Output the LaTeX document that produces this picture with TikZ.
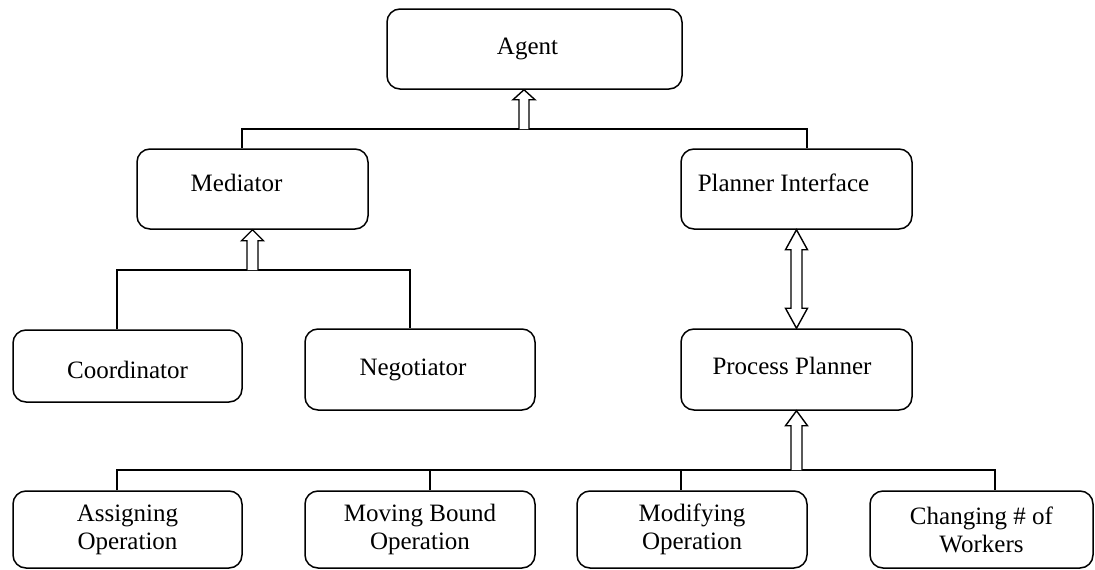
\documentclass[tikz,border=0pt]{standalone}
\usepackage{fontspec}
\setmainfont{Liberation Serif}
\usetikzlibrary{calc}
\newcommand\offtext[3]{\hspace*{#1}\raisebox{#2}[\height][\depth]{#3}}
\tikzset{
  box/.style={draw, line width=1.5pt, rounded corners=13pt, inner sep=0pt,
    font=\fontsize{25}{28}\selectfont, align=center},
  link/.style={draw, line width=1.5pt},
  hollow/.style={draw, line width=1.4pt, fill=white, line join=miter}
}
\begin{document}
\begin{tikzpicture}[x=1pt,y=-1pt]
\useasboundingbox (0,0) rectangle (1095,570);
% boxes
\node[box, minimum width=295pt, minimum height=80pt] (agent) at (534.5,49) {Agent\offtext{14pt}{3pt}{}};
\node[box, minimum width=231pt, minimum height=80pt] (med) at (252.5,189) {\offtext{0pt}{6pt}{Mediator}\hspace*{32pt}};
\node[box, minimum width=231pt, minimum height=80pt] (pif) at (796.5,189) {\offtext{0pt}{6pt}{Planner Interface}\hspace*{26pt}};
\node[box, minimum width=229pt, minimum height=72pt] (coord) at (127.5,366) {\offtext{0pt}{-4pt}{Coordinator}};
\node[box, minimum width=230pt, minimum height=81pt] (nego) at (420,369.5) {Negotiator\hspace*{14pt}};
\node[box, minimum width=231pt, minimum height=81pt] (pp) at (796.5,369.5) {\offtext{0pt}{4pt}{Process Planner}\hspace*{9pt}};
\node[box, minimum width=229pt, minimum height=77pt] (assign) at (127.5,529.5) {Assigning\\Operation};
\node[box, minimum width=230pt, minimum height=77pt] (moving) at (420,529.5) {Moving Bound\\Operation};
\node[box, minimum width=230pt, minimum height=77pt] (modif) at (692,529.5) {Modifying\\Operation};
\node[box, minimum width=223pt, minimum height=77pt] (chang) at (981.5,529.5) {Changing \# of\\Workers};
% bus coordinates
\coordinate (b1l) at (242,129);
\coordinate (b1r) at (807,129);
\coordinate (a1) at (524,129);
\coordinate (b2l) at (117,270);
\coordinate (b2r) at (410,270);
\coordinate (a2) at (252.5,270);
\coordinate (b3a) at (117,470);
\coordinate (b3b) at (430,470);
\coordinate (b3c) at (681,470);
\coordinate (b3d) at (995,470);
\coordinate (a3) at (796.5,470);
\coordinate (bx) at (796.5,0);
% connectors
\draw[link] (b1l |- med.north) -- (b1l) -- (b1r) -- (b1r |- pif.north);
\draw[link] (b2l |- coord.north) -- (b2l) -- (b2r) -- (b2r |- nego.north);
\draw[link] (b3a |- assign.north) -- (b3a) -- (b3d) -- (b3d |- chang.north);
\draw[link] (b3b) -- (b3b |- moving.north);
\draw[link] (b3c) -- (b3c |- modif.north);
% hollow arrows
\draw[hollow] let \p1=(a1), \p2=(agent.south -| a1) in
  ({\x1-5pt},\y1) -- ({\x1-5pt},{\y2-10pt}) -- ({\x1-11pt},{\y2-10pt}) -- (\x1,\y2)
  -- ({\x1+11pt},{\y2-10pt}) -- ({\x1+5pt},{\y2-10pt}) -- ({\x1+5pt},\y1);
\draw[hollow] let \p1=(a2), \p2=(med.south -| a2) in
  ({\x1-5.5pt},\y1) -- ({\x1-5.5pt},{\y2-11pt}) -- ({\x1-11pt},{\y2-11pt}) -- (\x1,\y2)
  -- ({\x1+11pt},{\y2-11pt}) -- ({\x1+5.5pt},{\y2-11pt}) -- ({\x1+5.5pt},\y1);
\draw[hollow] let \p1=(a3), \p2=(pp.south -| a3) in
  ({\x1-5.5pt},\y1) -- ({\x1-5.5pt},{\y2-15pt}) -- ({\x1-11pt},{\y2-15pt}) -- (\x1,\y2)
  -- ({\x1+11pt},{\y2-15pt}) -- ({\x1+5.5pt},{\y2-15pt}) -- ({\x1+5.5pt},\y1);
\draw[hollow] let \p1=(pif.south -| bx), \p2=(pp.north -| bx) in
  (\x1,\y1) -- ({\x1+11pt},{\y1-20pt}) -- ({\x1+5.5pt},{\y1-20pt}) -- ({\x1+5.5pt},{\y2+20pt})
  -- ({\x1+11pt},{\y2+20pt}) -- (\x1,\y2) -- ({\x1-11pt},{\y2+20pt}) -- ({\x1-5.5pt},{\y2+20pt})
  -- ({\x1-5.5pt},{\y1-20pt}) -- ({\x1-11pt},{\y1-20pt}) -- cycle;
\end{tikzpicture}
\end{document}
